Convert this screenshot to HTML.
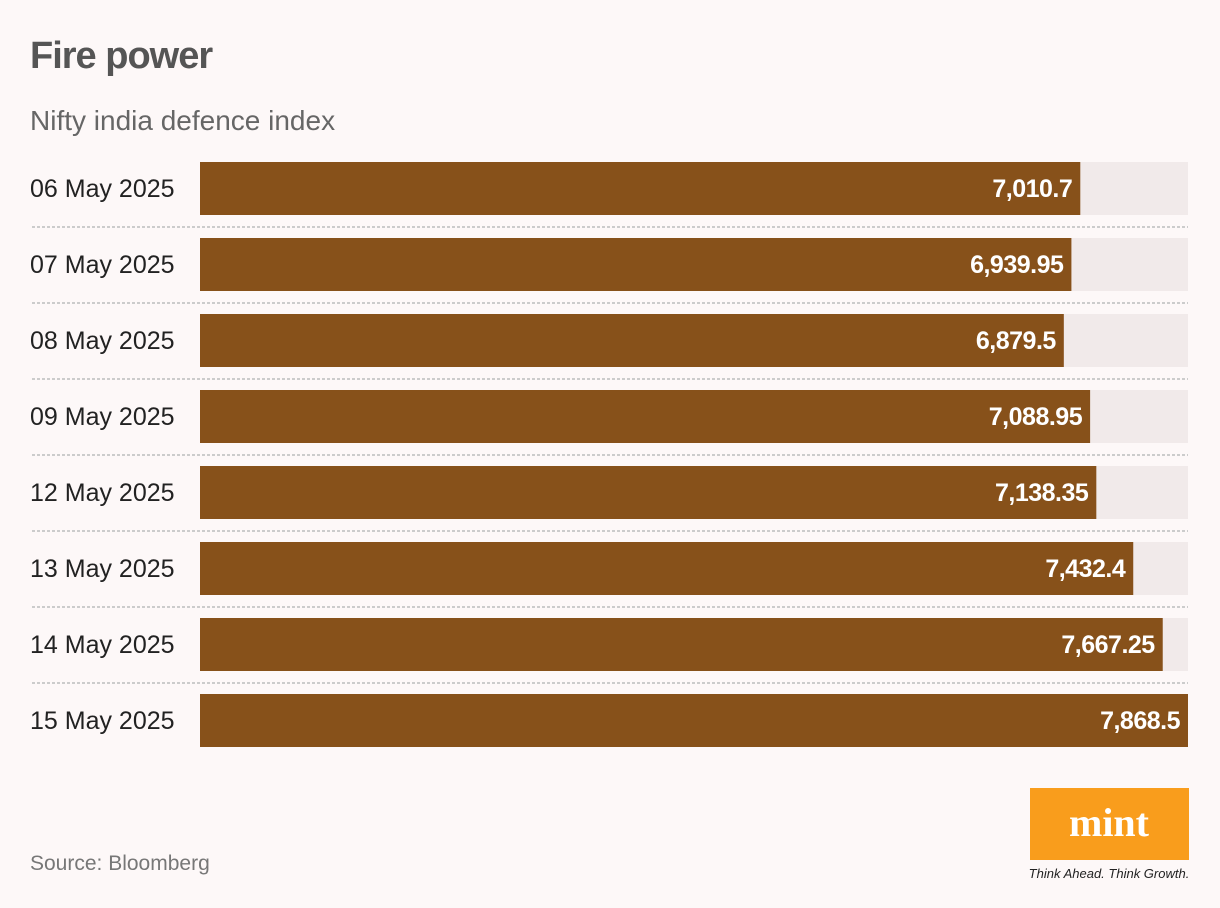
<!DOCTYPE html>
<html><head><meta charset="utf-8"><style>
body{margin:0;background:#fdf8f8;}
svg{display:block;font-family:"Liberation Sans",sans-serif;}
</style></head><body>
<svg id="chart" width="1220" height="908">
<rect width="1220" height="908" fill="#fdf8f8"/>
<text x="30" y="68" font-size="38" font-weight="bold" fill="#555" letter-spacing="-1">Fire power</text>
<text x="30" y="130" font-size="28" fill="#666">Nifty india defence index</text>
<g id="bars"></g>
<text x="30" y="870" font-size="21" fill="#777">Source: Bloomberg</text>
<g>
<rect x="1030" y="788" width="159" height="72" fill="#f99d1c"/>
<text x="1109" y="836" font-size="40" font-weight="bold" font-family="Liberation Serif,serif" fill="#fff" text-anchor="middle">mint</text>
<text x="1109" y="878" font-size="13" font-style="italic" fill="#222" text-anchor="middle">Think Ahead. Think Growth.</text>
</g>
</svg>
<script>
const categories=["06 May 2025","07 May 2025","08 May 2025","09 May 2025","12 May 2025","13 May 2025","14 May 2025","15 May 2025"];
const values=[7010.7,6939.95,6879.5,7088.95,7138.35,7432.4,7667.25,7868.5];
const valueLabels=["7,010.7","6,939.95","6,879.5","7,088.95","7,138.35","7,432.4","7,667.25","7,868.5"];
const NS="http://www.w3.org/2000/svg";
const g=document.getElementById('bars');
const x0=200,x1=1188,maxV=Math.max(...values);
const xs=v=>x0+(x1-x0)*v/maxV;
const y=i=>162+i*76;
function mk(t,a){const e=document.createElementNS(NS,t);for(const k in a)e.setAttribute(k,a[k]);g.appendChild(e);return e;}
categories.forEach((c,i)=>{
 const bg=mk('rect',{x:x0,y:y(i),width:x1-x0,height:53,fill:'#f1eaea'});
 
 
 const b=mk('rect',{x:x0,y:y(i),width:xs(values[i])-x0,height:53,fill:'#87511a'});
 
 
 const l=mk('text',{x:30,y:y(i)+35,'font-size':25,fill:'#222'});
 l.textContent=c;
 
 
 const v=mk('text',{x:xs(values[i])-8,y:y(i)+35,'font-size':25,'font-weight':'bold',fill:'#fff','text-anchor':'end','letter-spacing':'-0.5'});
 v.textContent=valueLabels[i];
 
 
 if(i<categories.length-1){
  const s=mk('line',{x1:32,x2:1188,y1:y(i)+65,y2:y(i)+65,stroke:'#ccc','stroke-width':2,'stroke-dasharray':'3 2'});
  
  
 }
});
</script>
</body></html>
